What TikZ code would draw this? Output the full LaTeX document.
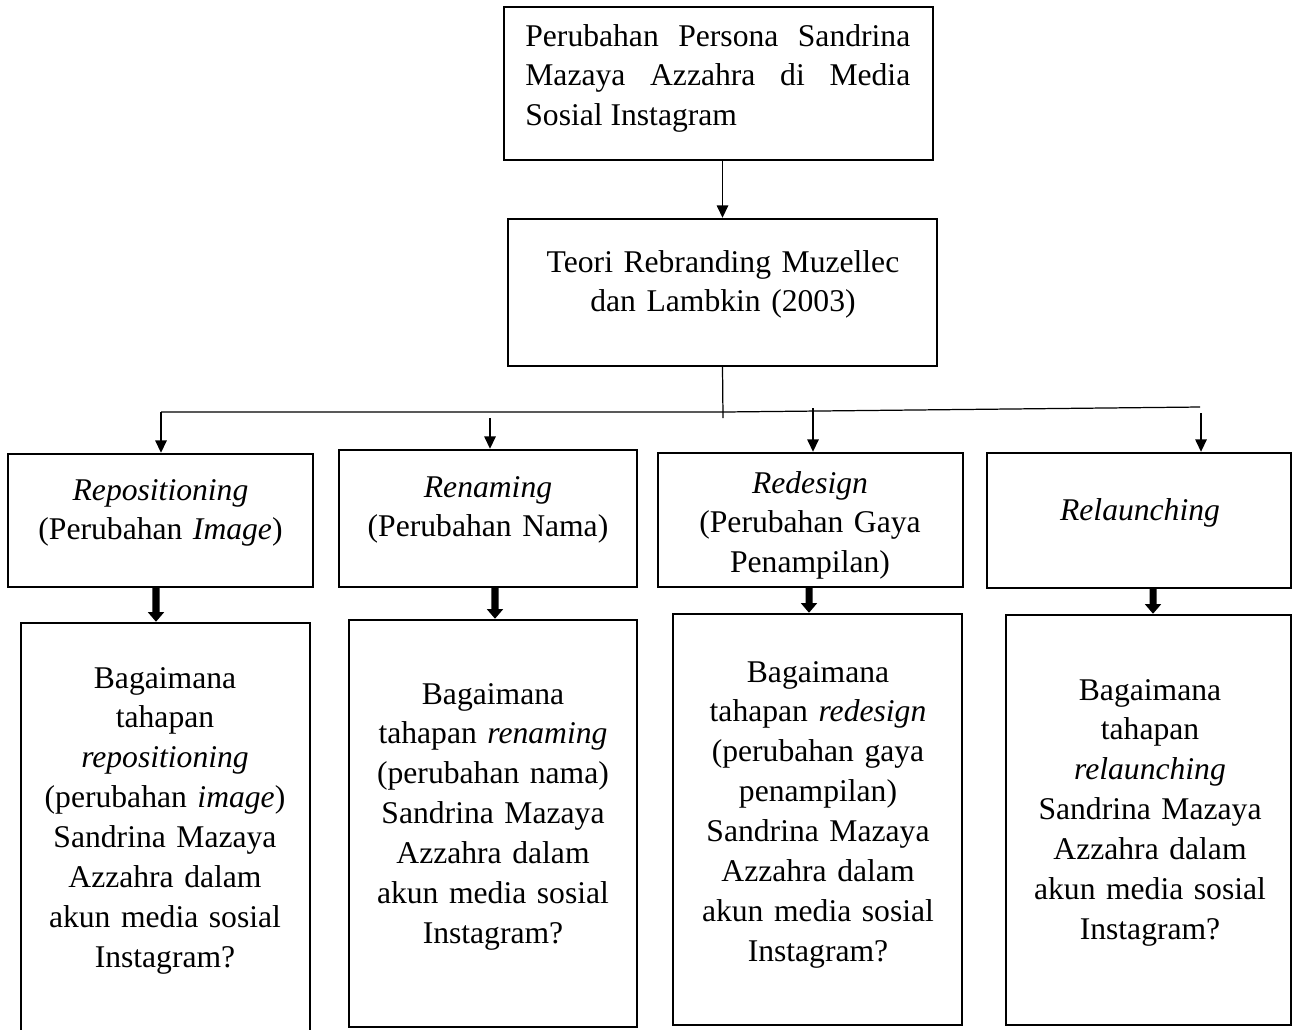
\documentclass[tikz,border=0pt]{standalone}
\usepackage{fontspec}
\setmainfont{Liberation Serif}
\usetikzlibrary{arrows.meta,fit}
\hyphenpenalty=10000
\tikzset{
  kotak/.style={draw,line width=1.4pt,inner sep=0pt},
  isi/.style={inner sep=0pt,anchor=base,align=center,text width=#1,font=\fontsize{18}{22.7}\selectfont},
  garis/.style={line width=0.7pt},
  panah/.style={line width=0.7pt,-{Triangle[length=7pt,width=6.5pt]}},
  panahtebal/.style={line width=4pt,-{Triangle[length=5.5pt,width=9pt]}},
}
\begin{document}
\begin{tikzpicture}[x=0.02cm,y=-0.02cm]
\useasboundingbox (0,0) rectangle (1293,1029);
%\draw[step=50,gray,very thin] (0,0) grid (1293,1029); %background grid
% kotak
\node[kotak,fit={(504,7)(933,160)}] (judul) {};
\node[kotak,fit={(508,219)(937,366)}] (teori) {};
\node[kotak,fit={(8,454)(313,587)}] (rep) {};
\node[kotak,fit={(339,450)(637,587)}] (ren) {};
\node[kotak,fit={(658,453)(963,587)}] (red) {};
\node[kotak,fit={(987,453)(1291,588)}] (rel) {};
\node[kotak,fit={(21,623)(310,1040)}] (qrep) {};
\node[kotak,fit={(349,620)(637,1027)}] (qren) {};
\node[kotak,fit={(673,614)(962,1025)}] (qred) {};
\node[kotak,fit={(1006,615)(1291,1025)}] (qrel) {};
% teks
\node[isi=7.7cm,align=justify,anchor=base west] (judul-t) at (525,46) {Perubahan Persona Sandrina Mazaya Azzahra di Media Sosial Instagram};
\node[isi=8cm] (teori-t) at (723,272) {Teori Rebranding Muzellec\\ dan Lambkin (2003)};
\node[isi=5.6cm] (rep-t) at (160.5,500) {\textit{Repositioning}\\ (Perubahan \textit{Image})};
\node[isi=5.6cm] (ren-t) at (488,497) {\textit{Renaming}\\ (Perubahan Nama)};
\node[isi=5.6cm] (red-t) at (810,493) {\textit{Redesign}\\ (Perubahan Gaya\\ Penampilan)};
\node[isi=5.6cm] (rel-t) at (1140,520) {\textit{Relaunching}};
\node[isi=5.4cm] (qrep-t) at (165,688) {Bagaimana\\ tahapan\\ \textit{repositioning}\\ (perubahan \textit{image})\\ Sandrina Mazaya\\ Azzahra dalam\\ akun media sosial\\ Instagram?};
\node[isi=5.4cm] (qren-t) at (493,704) {Bagaimana\\ tahapan \textit{renaming}\\ (perubahan nama)\\ Sandrina Mazaya\\ Azzahra dalam\\ akun media sosial\\ Instagram?};
\node[isi=5.4cm] (qred-t) at (818,682) {Bagaimana\\ tahapan \textit{redesign}\\ (perubahan gaya\\ penampilan)\\ Sandrina Mazaya\\ Azzahra dalam\\ akun media sosial\\ Instagram?};
\node[isi=5.4cm] (qrel-t) at (1150,700) {Bagaimana\\ tahapan\\ \textit{relaunching}\\ Sandrina Mazaya\\ Azzahra dalam\\ akun media sosial\\ Instagram?};
% garis cabang
\coordinate (turun) at (723,418);
\coordinate (tengah) at (723,412);
\coordinate (j1) at (161,412);
\coordinate (j2) at (490,418);
\coordinate (j3) at (813,408);
\coordinate (j4) at (1200,407);
\coordinate (j4s) at (1201,413);
\draw[panah] (judul.south -| teori.north) -- (teori.north);
\draw[garis] (teori.south) -- (turun);
\draw[garis] (j1) -- (tengah) -- (j4);
\draw[panah] (j1) -- (rep.north -| j1);
\draw[panah] (j2) -- (ren.north -| j2);
\draw[panah] (j3) -- (red.north -| j3);
\draw[panah] (j4s) -- (rel.north -| j4s);
% panah tebal
\draw[panahtebal] ([xshift=-0.09cm]rep.south) -- ([xshift=-0.19cm]qrep.north);
\draw[panahtebal] ([xshift=0.14cm]ren.south) -- ([xshift=0.04cm]qren.north);
\draw[panahtebal] ([xshift=-0.03cm]red.south) -- ([xshift=-0.17cm]qred.north);
\draw[panahtebal] ([xshift=0.28cm]rel.south) -- ([xshift=0.09cm]qrel.north);
\end{tikzpicture}
\end{document}
